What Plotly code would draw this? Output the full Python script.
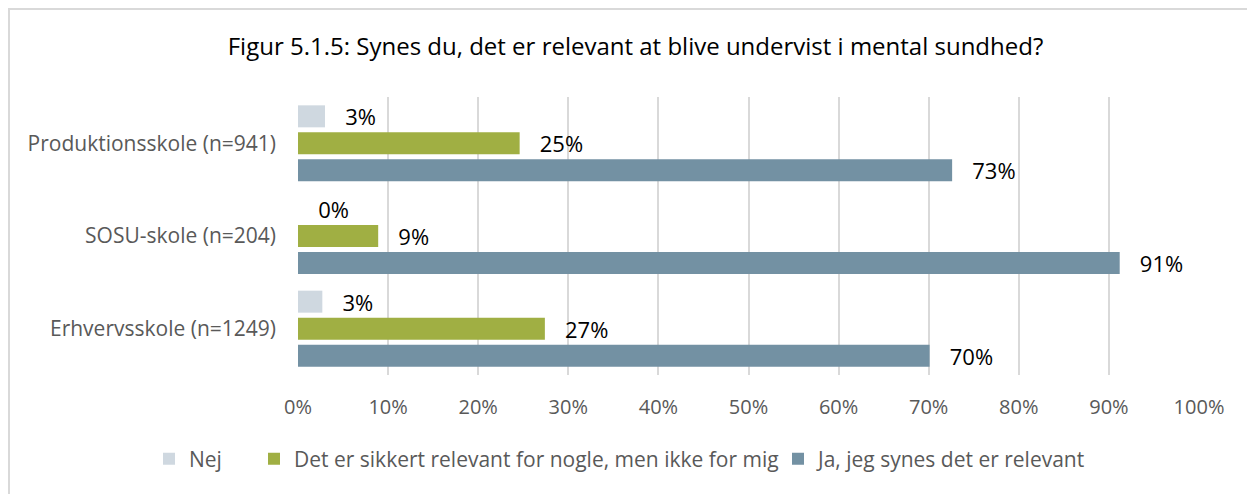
import plotly.graph_objects as go

categories = ["Produktionsskole (n=941)", "SOSU-skole (n=204)", "Erhvervsskole (n=1249)"]
series_names = ["Nej", "Det er sikkert relevant for nogle, men ikke for mig", "Ja, jeg synes det er relevant"]
nej = [3.0, 0.0, 2.7]
sikkert = [24.6, 8.9, 27.4]
ja = [72.6, 91.2, 70.1]
colors = ["#cfd8e0", "#a0af43", "#7391a3"]
x_ticks = [0, 10, 20, 30, 40, 50, 60, 70, 80, 90, 100]
x_tick_labels = [f"{v}%" for v in x_ticks]

W, H = 1255, 494
ml, mr, mt, mb = 290, 64, 89, 127
pw, ph = W - ml - mr, H - mt - mb

legend_ids = ["legend", "legend2", "legend3"]
legend_left_px = [141, 246, 770]  # figure px for each legend box

fig = go.Figure()
for name, vals, col, lid in zip(series_names, [nej, sikkert, ja], colors, legend_ids):
    fig.add_trace(go.Bar(
        y=categories, x=vals, name=name, orientation="h",
        marker=dict(color=col, line=dict(width=0)),
        text=[f"   {round(v)}%" for v in vals], textposition="outside",
        constraintext="none",
        textfont=dict(size=22, color="#000000", family="Open Sans"),
        cliponaxis=False, legend=lid,
    ))

leg_y = -(451 - (mt + ph)) / ph
legends = {}
for lid, lx in zip(legend_ids, legend_left_px):
    legends[lid] = dict(orientation="h", x=(lx - ml) / pw, xanchor="left", y=leg_y, yanchor="middle",
                        font=dict(size=21, color="#595959"), itemwidth=30, bgcolor="rgba(0,0,0,0)")

fig.update_layout(
    width=W, height=H,
    margin=dict(l=ml, r=mr, t=mt, b=mb),
    paper_bgcolor="white", plot_bgcolor="white",
    barmode="group", bargap=0.126, bargroupgap=0.185,
    title=dict(text="Figur 5.1.5: Synes du, det er relevant at blive undervist i mental sundhed?",
               x=0.5, xanchor="center", y=1 - 39 / H, yanchor="middle",
               font=dict(size=24, color="#000000", family="Open Sans")),
    font=dict(family="Open Sans", color="#595959"),
    showlegend=True,
    xaxis=dict(range=[0, 100], tickvals=x_ticks, ticktext=x_tick_labels, showgrid=True,
               gridcolor="#d9d9d9", gridwidth=2, zeroline=False, showline=False,
               tickfont=dict(size=20, color="#595959"), ticks="", ticklabelstandoff=18, fixedrange=True),
    yaxis=dict(autorange="reversed", showgrid=False, showline=False, ticks="",
               tickfont=dict(size=21, color="#595959"), ticklabelstandoff=21),
    **legends,
)

# figure border
fig.add_shape(type="rect", xref="paper", yref="paper",
              x0=(1 - ml) / pw, x1=(W - 1 - ml) / pw,
              y0=-(H - 1 - (mt + ph)) / ph, y1=1 + (mt - 1) / ph,
              line=dict(color="#d9d9d9", width=2), fillcolor="rgba(0,0,0,0)", layer="below")

fig.write_html("out.html")
